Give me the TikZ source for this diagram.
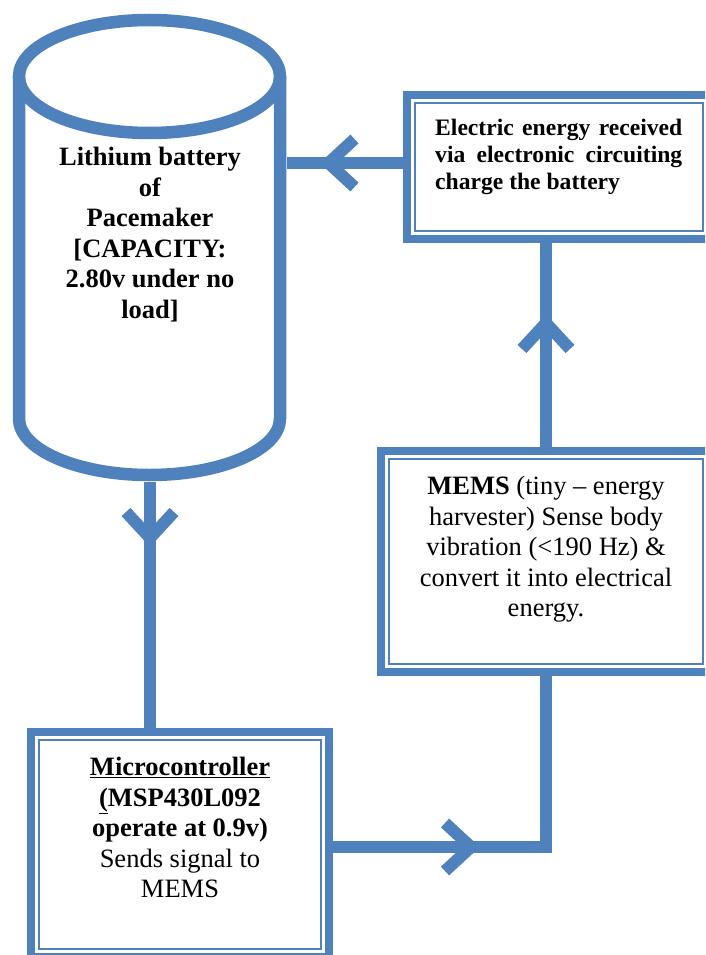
\documentclass[tikz,border=0pt]{standalone}
\usepackage{fontspec}
\setmainfont{Liberation Serif}
\usetikzlibrary{positioning, decorations.markings}
\definecolor{flowblue}{RGB}{79,129,189}
\newcommand{\bodyfont}{\fontsize{26.5pt}{30.6pt}\selectfont}
\newcommand{\innerframe}[1]{\draw[frameline] ([shift={(12,12)}]#1.north west) rectangle ([shift={(-12,-12)}]#1.south east);}

\begin{document}
\begin{tikzpicture}[
    x=1pt, y=-1pt,
    frame/.style={rectangle, draw=flowblue, line width=8pt, fill=white},
    frameline/.style={draw=flowblue, line width=2pt},
    flow/.style={draw=flowblue, line width=12pt},
    cyl/.style={draw=flowblue, line width=12.5pt},
    txt/.style={inner sep=0pt, align=center, font=\bodyfont},
    chevron at/.style={postaction={decorate}, decoration={markings, mark=at position #1 with {\draw[flowblue, line width=12pt] (-26pt,24pt) -- (0pt,0pt) -- (-26pt,-24pt);}}}
]
\useasboundingbox (0,0) rectangle (705,955);
\clip (0,0) rectangle (705,955);

\node[minimum width=273pt, minimum height=469pt, inner sep=0pt, outer sep=0pt] (battery) at (150,247.5) {};
\node[frame, minimum width=304.5pt, minimum height=144pt] (charge) at (558.75,167) {};
\node[frame, minimum width=330pt, minimum height=221pt] (mems) at (546,561.5) {};
\node[frame, minimum width=298pt, minimum height=225pt] (mcu) at (180,844.5) {};
\innerframe{charge}
\innerframe{mems}
\innerframe{mcu}

% battery drawn as a cylinder
\draw[cyl] (19,76.5) -- (19,418.5) arc[start angle=180, end angle=0, x radius=130.5, y radius=56.5] -- (280,76.5);
\draw[cyl, fill=white] (149.5,76.5) ellipse [x radius=130.5, y radius=56.5];

\node[txt, font=\bodyfont\bfseries, below=134pt of battery.north] (batterytext) {Lithium battery\\of\\Pacemaker\\{[}CAPACITY:\\2.80v under no\\load]};
\node[inner sep=0pt, text width=247pt, align=justify, font=\fontsize{23.6pt}{27.2pt}\selectfont\bfseries, below right=27.5pt and 32.5pt of charge.north west] (chargetext) {Electric energy received via electronic circuiting charge the battery};
\node[txt, below=29pt of mems.north] (memstext) {\textbf{MEMS} (tiny -- energy\\harvester) Sense body\\vibration (<190 Hz) \&\\convert it into electrical\\energy.};
\node[txt, below=29pt of mcu.north] (mcutext) {\textbf{\underline{Microcontroller}}\\\textbf{\underline{(}MSP430L092}\\\textbf{operate at 0.9v)}\\Sends signal to\\MEMS};

\draw[flow, chevron at=74pt] ([yshift=4pt]charge.west) -- ([yshift=4pt]charge.west -| battery.east);
\draw[flow, chevron at=56pt] (battery.south) -- (battery.south |- mcu.north);
\draw[flow, chevron at=124pt] (mems.north) -- (mems.north |- charge.south);
\draw[flow, chevron at=138pt] ([yshift=-2.5pt]mcu.east) -| (mems.south);
\end{tikzpicture}
\end{document}
